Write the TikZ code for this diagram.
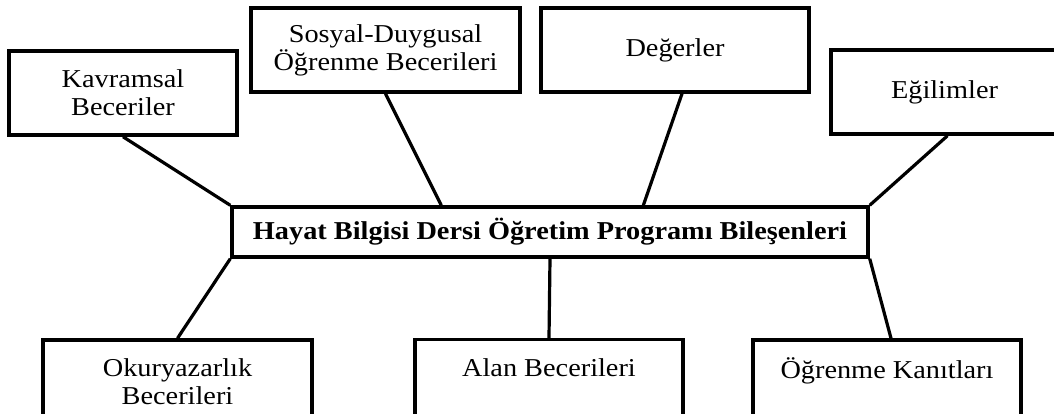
\documentclass[tikz,border=0pt]{standalone}
\usepackage{fontspec}
\setmainfont{Liberation Serif}[FakeStretch=1.1]
\usetikzlibrary{calc}
\tikzset{
  part/.style={
    rectangle,
    draw=black,
    fill=white,
    line width=2.6pt,
    align=center,
    inner sep=0pt,
    minimum height=63pt,
    font=\fontsize{19.3pt}{21pt}\selectfont,
  },
  link/.style={
    line width=2.4pt,
  }
}

\begin{document}
\begin{tikzpicture}[x=0.75pt, y=-0.75pt]
  \useasboundingbox (0, 0) rectangle (1054, 414);
  \clip (0, 0) rectangle (1054, 414);

  % top row
  \node[part, minimum width=171pt] (kav) at (123, 93) {Kavramsal\\Beceriler};
  \node[part, minimum width=201.75pt] (sos) at (385.5, 50) {Sosyal-Duygusal\\Öğrenme Becerileri};
  \node[part, minimum width=201pt] (deg) at (675, 50) {Değerler};
  \node[part, minimum width=170.25pt] (egi) at (944.5, 92) {Eğilimler};

  % middle
  \node[part, minimum width=477pt, minimum height=37.5pt, font=\fontsize{19.3pt}{21pt}\selectfont\bfseries] (hb) at (550, 232)
    {Hayat Bilgisi Dersi Öğretim Programı Bileşenleri};

  % bottom row
  \node[part, minimum width=201.75pt] (oku) at (177.5, 382) {Okuryazarlık\\Becerileri};
  \node[part, minimum width=201pt] (alan) at (549, 381.5) {Alan Becerileri\\\mbox{}};
  \node[part, minimum width=201pt] (ogr) at (887, 382) {Öğrenme Kanıtları\\\mbox{}};

  \draw[link] (kav.south) -- (hb.north west);
  \draw[link] (sos.south) -- ($(hb.north west)!0.33!(hb.north east)$);
  \draw[link] ($(deg.south)+(7, 0)$) -- ($(hb.north west)!0.646!(hb.north east)$);
  \draw[link] ($(egi.south)+(3, 0)$) -- (hb.north east);
  \draw[link] (hb.south west) -- (oku.north);
  \draw[link] (hb.south) -- (alan.north);
  \draw[link] (hb.south east) -- ($(ogr.north)+(4, 0)$);

\end{tikzpicture}
\end{document}
